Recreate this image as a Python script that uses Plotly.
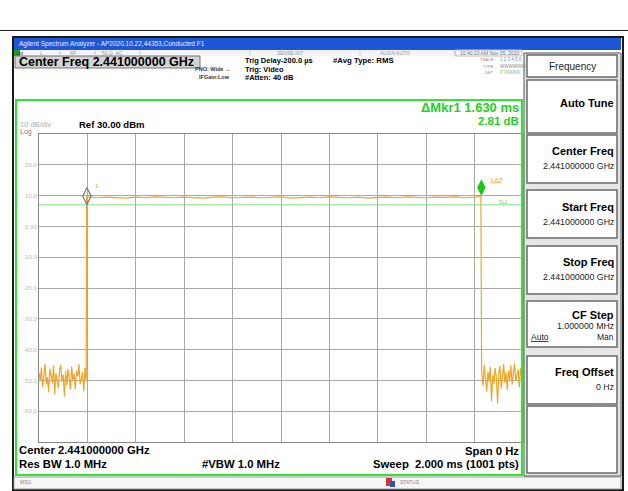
import plotly.graph_objects as go

# ---------------- data ----------------
# zero-span sweep: time in ms, level in dBm
t_pre = [0.000, 0.005, 0.010, 0.015, 0.020, 0.025, 0.030, 0.035, 0.040, 0.045,
         0.050, 0.055, 0.060, 0.065, 0.070, 0.075, 0.080, 0.085, 0.090, 0.095,
         0.100, 0.105, 0.110, 0.115, 0.120, 0.125, 0.130, 0.135, 0.140, 0.145,
         0.150, 0.155, 0.160, 0.165, 0.170, 0.175, 0.180, 0.185, 0.190, 0.195]
lvl_pre = [-47.5, -50.2, -45.8, -52.1, -48.9, -44.6, -51.3, -49.0, -53.8, -46.2,
           -48.5, -50.9, -45.1, -54.6, -47.7, -49.8, -52.4, -46.6, -44.9, -50.5,
           -48.1, -55.2, -47.0, -51.6, -46.3, -49.4, -53.0, -45.5, -50.1, -47.9,
           -52.8, -46.9, -48.6, -44.8, -51.2, -49.7, -47.3, -53.5, -46.0, -50.3]

t_on = [0.197, 0.205, 0.240, 0.280, 0.320, 0.360, 0.400, 0.440, 0.480, 0.520,
        0.560, 0.600, 0.640, 0.680, 0.720, 0.760, 0.800, 0.840, 0.880, 0.920,
        0.960, 1.000, 1.040, 1.080, 1.120, 1.160, 1.200, 1.240, 1.280, 1.320,
        1.360, 1.400, 1.440, 1.480, 1.520, 1.560, 1.600, 1.640, 1.680, 1.720,
        1.760, 1.800, 1.826]
lvl_on = [9.9, 9.6, 9.3, 9.5, 9.4, 9.2, 9.5, 9.3, 9.6, 9.4,
          9.3, 9.5, 9.4, 9.2, 9.5, 9.6, 9.3, 9.4, 9.5, 9.3,
          9.4, 9.6, 9.2, 9.4, 9.5, 9.3, 9.6, 9.4, 9.3, 9.5,
          9.2, 9.4, 9.5, 9.3, 9.6, 9.4, 9.3, 9.5, 9.4, 9.6,
          9.3, 9.5, 9.7]

t_post = [1.829, 1.835, 1.840, 1.845, 1.850, 1.855, 1.860, 1.865, 1.870, 1.875,
          1.880, 1.885, 1.890, 1.895, 1.900, 1.905, 1.910, 1.915, 1.920, 1.925,
          1.930, 1.935, 1.940, 1.945, 1.950, 1.955, 1.960, 1.965, 1.970, 1.975,
          1.980, 1.985, 1.990, 1.995, 2.000]
lvl_post = [-46.5, -51.8, -44.9, -49.6, -53.7, -47.2, -50.4, -45.6, -56.8, -48.3,
            -51.1, -46.0, -49.2, -57.5, -47.8, -45.3, -52.6, -48.7, -44.7, -50.8,
            -47.4, -53.1, -46.8, -49.9, -45.2, -51.4, -47.6, -44.5, -50.2, -48.0,
            -46.4, -52.3, -45.9, -49.1, -47.0]

mkr_t = [0.198, 1.828]
mkr_lvl = [9.8, 12.6]
display_line = 7.0

ref_level = 30.0
db_per_div = 10.0
ytick_vals = [20, 10, 0, -10, -20, -30, -40, -50, -60]
ytick_text = ["20.0", "10.0", "0.00", "-10.0", "-20.0", "-30.0", "-40.0", "-50.0", "-60.0"]

# ---------------- figure ----------------
W, H = 628, 491
def X(p): return p / W
def Y(p): return 1 - p / H

t_all = t_pre + t_on + t_post
lvl_all = lvl_pre + lvl_on + lvl_post

fig = go.Figure()
fig.add_trace(go.Scatter(x=t_all, y=lvl_all, mode="lines",
                         line=dict(color="#f0a52a", width=1.2), hoverinfo="skip",
                         showlegend=False))
fig.add_trace(go.Scatter(x=[0, 2], y=[display_line, display_line], mode="lines",
                         line=dict(color="#7fe07f", width=1), showlegend=False))
fig.add_trace(go.Scatter(x=[mkr_t[0]], y=[mkr_lvl[0]], mode="markers",
                         marker=dict(symbol="diamond-tall-open", size=12,
                                     color="#777777", line=dict(width=1.2, color="#777777")),
                         showlegend=False))
fig.add_trace(go.Scatter(x=[mkr_t[1]], y=[mkr_lvl[1]], mode="markers",
                         marker=dict(symbol="diamond-tall", size=12, color="#18c818"),
                         showlegend=False))

gx0, gx1, gy0, gy1 = 39, 523, 134, 442
fig.update_layout(
    width=W, height=H, margin=dict(l=0, r=0, t=0, b=0),
    paper_bgcolor="white", plot_bgcolor="white",
    font=dict(family="Liberation Sans, Arial, sans-serif", color="black"),
    xaxis=dict(domain=[X(gx0), X(gx1)], range=[0, 2], dtick=0.2, tick0=0,
               showgrid=True, gridcolor="#a8a8a8", gridwidth=1,
               showticklabels=False, zeroline=False, ticks="",
               showline=True, mirror=True, linecolor="#8a8a8a", linewidth=1),
    yaxis=dict(domain=[Y(gy1), Y(gy0)],
               range=[ref_level - 10 * db_per_div, ref_level], dtick=10, tick0=0,
               showgrid=True, gridcolor="#a8a8a8", gridwidth=1,
               tickvals=ytick_vals, ticktext=ytick_text,
               tickfont=dict(size=6, color="#b8b8b8"), ticks="",
               zeroline=False, showline=True, mirror=True,
               linecolor="#8a8a8a", linewidth=1),
)

shapes = []
def rect(x0, y0, x1, y1, fill=None, line=None, lw=1, layer="below"):
    shapes.append(dict(type="rect", xref="paper", yref="paper",
                       x0=X(x0), x1=X(x1), y0=Y(y1), y1=Y(y0),
                       fillcolor=fill if fill else "rgba(0,0,0,0)",
                       line=dict(color=line if line else "rgba(0,0,0,0)", width=lw if line else 0),
                       layer=layer))
def hline(x0, x1, y, color, lw=1, layer="above"):
    shapes.append(dict(type="line", xref="paper", yref="paper",
                       x0=X(x0), x1=X(x1), y0=Y(y), y1=Y(y),
                       line=dict(color=color, width=lw), layer=layer))
def vline(x, y0, y1, color, lw=1, layer="above"):
    shapes.append(dict(type="line", xref="paper", yref="paper",
                       x0=X(x), x1=X(x), y0=Y(y0), y1=Y(y1),
                       line=dict(color=color, width=lw), layer=layer))

# document rule
hline(0, 628, 30.5, "#222222", 1)
# screenshot frame
rect(13, 37, 623, 490, fill="#ffffff", line="#1a1a1a", lw=2)
# title bar
rect(14, 38, 621, 50, fill="#1e56d8")
# status row
rect(14, 50, 524, 56, fill="#f4f4f4")
rect(14, 50, 20, 56, fill="#18a018")
for xx in [60, 95, 140, 250, 360, 455]:
    vline(xx, 50.5, 55.5, "#c8c8c8", 1)
rect(455, 50, 522, 56, line="#c0c0c0", lw=1)
# center freq box
rect(15, 56, 200, 68, fill="#d4d4d4", line="#777777", lw=1)
# green frame
rect(16, 100, 522, 475, line="#2ee62e", lw=2, layer="above")
# status bar
rect(14, 477, 621, 489, fill="#f6f6f6", line="#9a9a9a", lw=1)
rect(386, 478, 392, 486, fill="#d83030")
rect(390, 481, 395, 487, fill="#3050c0")
# right panel
rect(524, 53, 621, 476, fill="#e6e6e6", line="#555555", lw=1)
boxes = [(55, 77), (80, 133), (135, 183), (190, 238), (246, 294), (301, 347), (356, 404), (406, 473)]
for (a, b) in boxes:
    rect(527, a, 617, b, fill="#ffffff", line="#6a6a6a", lw=1.5)
fig.update_layout(shapes=shapes)

ann = []
def txt(x, y, s, size, color="black", anchor="left", bold=False, family=None):
    ann.append(dict(x=X(x), y=Y(y), xref="paper", yref="paper", text=("<b>%s</b>" % s) if bold else s,
                    showarrow=False, xanchor=anchor, yanchor="middle",
                    font=dict(size=size, color=color, family=family or "Liberation Sans, Arial, sans-serif")))

txt(17, 44, "Agilent Spectrum Analyzer - AP2020.10.22,44353,Conducted F1", 6.5, "#e8eeff")
txt(14.5, 53, "LXI", 4, "#000000")
txt(38, 53, "L", 5, "#999999")
txt(68, 53, "RF", 5, "#999999")
txt(100, 53, "50 Ω  AC", 5, "#999999")
txt(275, 53, "SENSE:INT", 5, "#999999")
txt(378, 53, "ALIGN AUTO", 5, "#999999")
txt(458, 53, "10:40:23 AM Nov 05, 2020", 5, "#777777")
txt(17, 62, "Center Freq 2.441000000 GHz", 12.5, bold=True)
txt(232, 69, "PNO: Wide ↔", 5.5, "#333333", anchor="right", bold=True)
txt(232, 77, "IFGain:Low", 5.5, "#333333", anchor="right", bold=True)
txt(243, 61, "Trig Delay-200.0 µs", 7.5, bold=True)
txt(243, 69.5, "Trig: Video", 7.5, bold=True)
txt(243, 78, "#Atten: 40 dB", 7.5, bold=True)
txt(331, 61, "#Avg Type: RMS", 7.8, bold=True)
txt(496, 59.5, "TRACE", 4, "#888888", anchor="right")
txt(496, 66, "TYPE", 4, "#888888", anchor="right")
txt(496, 72.5, "DET", 4, "#888888", anchor="right")
txt(498, 59.5, "1 2 3 4 5 6", 4.5, "#5a9ad8")
txt(498, 66, "WWWWWW", 4.5, "#888888")
txt(498, 72.5, "P NNNNN", 4.5, "#78c878")

txt(18, 125, "10 dB/div", 7.5, "#aaaaaa")
txt(18, 131.5, "Log", 7, "#777777")
txt(77, 125, "Ref 30.00 dBm", 9.5, bold=True)
txt(521, 107, "ΔMkr1 1.630 ms", 13, "#22d022", anchor="right", bold=True)
txt(521, 121, "2.81 dB", 11.5, "#22d022", anchor="right", bold=True)

txt(93, 186, "1", 6, "#f0a020")
txt(488, 181, "1Δ2", 7, "#f0a020")
txt(497, 202.5, "DL1", 4.5, "#66cc66")

txt(17, 449.5, "Center 2.441000000 GHz", 11.3, bold=True)
txt(17, 464, "Res BW 1.0 MHz", 11.3, bold=True)
txt(200, 464, "#VBW 1.0 MHz", 11.3, bold=True)
txt(521, 450.5, "Span 0 Hz", 11.3, anchor="right", bold=True)
txt(521, 464, "Sweep  2.000 ms (1001 pts)", 11.3, anchor="right", bold=True)
txt(18, 482, "MSG", 5, "#888888")
txt(398, 482, "STATUS", 5, "#888888")

txt(572, 66, "Frequency", 10, "#222222", anchor="center")
txt(616, 103, "Auto Tune", 11, anchor="right", bold=True)
for (yy, title, val) in [(151, "Center Freq", "2.441000000 GHz"),
                         (207, "Start Freq", "2.441000000 GHz"),
                         (262, "Stop Freq", "2.441000000 GHz"),
                         (372, "Freq Offset", "0 Hz")]:
    txt(616, yy, title, 11, anchor="right", bold=True)
    txt(616, yy + 14.5, val, 8.8, "#222222", anchor="right")
txt(616, 315, "CF Step", 11, anchor="right", bold=True)
txt(616, 326, "1.000000 MHz", 8.8, "#222222", anchor="right")
txt(529, 337, "<u>Auto</u>", 8.5, "#222222")
txt(616, 337, "Man", 8.5, "#222222", anchor="right")

fig.update_layout(annotations=ann)
fig.write_html("out.html")
